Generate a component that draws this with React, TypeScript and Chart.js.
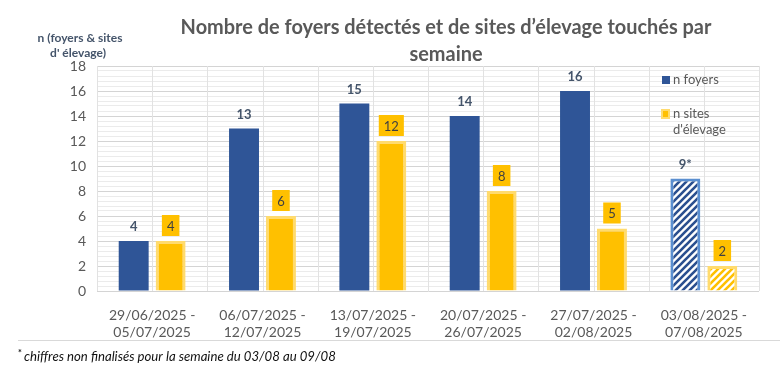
import React, { useEffect, useRef } from "react";
import { Chart, registerables } from "chart.js";

Chart.register(...registerables);

const categories: string[][] = [
  ["29/06/2025 -", "05/07/2025"],
  ["06/07/2025 -", "12/07/2025"],
  ["13/07/2025 -", "19/07/2025"],
  ["20/07/2025 -", "26/07/2025"],
  ["27/07/2025 -", "02/08/2025"],
  ["03/08/2025 -", "07/08/2025"],
];
const foyers = [4, 13, 15, 14, 16, 9];
const sites = [4, 6, 12, 8, 5, 2];
const foyersLabels = ["4", "13", "15", "14", "16", "9*"];
const sitesLabels = ["4", "6", "12", "8", "5", "2"];
const provisional = [false, false, false, false, false, true];
const yMajorTicks = [0, 2, 4, 6, 8, 10, 12, 14, 16, 18];
const yMinorPerMajor = 5;
const titleLines = ["Nombre de foyers détectés et de sites d’élevage touchés par", "semaine"];
const yAxisTitle = ["n (foyers & sites", "d' élevage)"];
const legendFoyers = ["n foyers"];
const legendSites = ["n sites", "d'élevage"];
const footnote = "chiffres non finalisés pour la semaine du 03/08 au 09/08";

const FONT = "Lato, 'Open Sans', sans-serif";
const BLUE = "#2f5597";
const YELLOW = "#ffc000";
const YELLOW_BORDER = "#ffdb6e";
const HATCH_BORDER = "#5b8fd0";
const TEXT_GRAY = "#595959";
const LABEL_BLUE = "#44546a";

function makeHatch(stripe: string, bg: string, size: number, lw: number) {
  const c = document.createElement("canvas");
  c.width = size;
  c.height = size;
  const g = c.getContext("2d")!;
  g.fillStyle = bg;
  g.fillRect(0, 0, size, size);
  g.strokeStyle = stripe;
  g.lineWidth = lw;
  g.beginPath();
  g.moveTo(-1, size + 1);
  g.lineTo(size + 1, -1);
  g.moveTo(-2, 2);
  g.lineTo(2, -2);
  g.moveTo(size - 2, size + 2);
  g.lineTo(size + 2, size - 2);
  g.stroke();
  return g.createPattern(c, "repeat")!;
}

function isMajor(v: number) {
  return yMajorTicks.some((m) => Math.abs(m - v) < 1e-6);
}

function fitFont(ctx: CanvasRenderingContext2D, style: string, text: string, target: number) {
  ctx.font = `${style} 12px ${FONT}`;
  const w = ctx.measureText(text).width;
  ctx.font = `${style} ${((12 * target) / w).toFixed(2)}px ${FONT}`;
}

const decorPlugin = {
  id: "decor",
  beforeDatasetsDraw(chart: any) {
    const { ctx, chartArea: a } = chart;
    ctx.save();
    ctx.strokeStyle = "#e2e2e2";
    ctx.lineWidth = 1;
    const n = categories.length * 2;
    for (let i = 0; i <= n; i++) {
      const x = Math.round(a.left + (i * (a.right - a.left)) / n) + 0.5;
      ctx.beginPath();
      ctx.moveTo(x, a.top);
      ctx.lineTo(x, a.bottom);
      ctx.stroke();
    }
    ctx.restore();
  },
  afterDatasetsDraw(chart: any) {
    const { ctx } = chart;
    ctx.save();
    ctx.textAlign = "center";
    ctx.textBaseline = "middle";
    const m0 = chart.getDatasetMeta(0);
    m0.data.forEach((el: any, i: number) => {
      ctx.font = `bold 13px ${FONT}`;
      ctx.fillStyle = LABEL_BLUE;
      ctx.fillText(foyersLabels[i], el.x, el.y - 14);
    });
    const m1 = chart.getDatasetMeta(1);
    m1.data.forEach((el: any, i: number) => {
      ctx.font = `13px ${FONT}`;
      const w = ctx.measureText(sitesLabels[i]).width + 10;
      const h = 21;
      const bottom = el.y - 5;
      ctx.fillStyle = YELLOW;
      ctx.fillRect(el.x - w / 2, bottom - h, w, h);
      ctx.fillStyle = "#404040";
      ctx.fillText(sitesLabels[i], el.x, bottom - h / 2 + 1);
    });
    ctx.restore();
  },
  afterDraw(chart: any) {
    const { ctx } = chart;
    ctx.save();
    // Title
    ctx.fillStyle = TEXT_GRAY;
    ctx.textAlign = "center";
    ctx.textBaseline = "alphabetic";
    fitFont(ctx, "bold", titleLines[0], 531);
    ctx.fillText(titleLines[0], 446, 34);
    ctx.fillText(titleLines[1], 446, 61);

    // Y axis title
    ctx.fillStyle = LABEL_BLUE;
    ctx.font = `bold 12px ${FONT}`;
    ctx.textBaseline = "middle";
    ctx.fillText(yAxisTitle[0], 80, 38);
    ctx.fillText(yAxisTitle[1], 78, 53);

    // Legend
    ctx.textAlign = "left";
    ctx.fillStyle = BLUE;
    ctx.fillRect(662, 76, 8, 8);
    ctx.fillStyle = YELLOW_BORDER;
    ctx.fillRect(661, 109, 9, 10);
    ctx.fillStyle = YELLOW;
    ctx.fillRect(663, 111, 5, 6);
    ctx.fillStyle = TEXT_GRAY;
    ctx.font = `13px ${FONT}`;
    ctx.fillText(legendFoyers[0], 673, 80);
    ctx.fillText(legendSites[0], 673, 114);
    ctx.fillText(legendSites[1], 673, 130);

    // Separator + footnote
    ctx.strokeStyle = "#d9d9d9";
    ctx.lineWidth = 1;
    ctx.beginPath();
    ctx.moveTo(18, 340.5);
    ctx.lineTo(780, 340.5);
    ctx.stroke();
    ctx.fillStyle = "#111111";
    ctx.font = `bold 9px ${FONT}`;
    ctx.fillText("*", 18, 353);
    fitFont(ctx, "italic", footnote, 312);
    ctx.fillText(footnote, 24, 357);
    ctx.restore();
  },
};

export default function App() {
  const ref = useRef<HTMLCanvasElement | null>(null);
  useEffect(() => {
    const canvas = ref.current!;
    const blueHatch = makeHatch("#2a4f8f", "#ffffff", 7, 2.6);
    const yellowHatch = makeHatch(YELLOW, "#ffffff", 7, 2.6);
    const yTicks: number[] = [];
    for (let i = 0; i < yMajorTicks.length - 1; i++) {
      const a = yMajorTicks[i];
      const b = yMajorTicks[i + 1];
      for (let k = 0; k < yMinorPerMajor; k++) {
        yTicks.push(Math.round((a + ((b - a) * k) / yMinorPerMajor) * 1000) / 1000);
      }
    }
    yTicks.push(yMajorTicks[yMajorTicks.length - 1]);

    const chart = new Chart(canvas, {
      type: "bar",
      data: {
        labels: categories,
        datasets: [
          {
            label: legendFoyers[0],
            data: foyers,
            backgroundColor: provisional.map((p) => (p ? blueHatch : BLUE)) as any,
            borderColor: provisional.map((p) => (p ? HATCH_BORDER : BLUE)),
            borderWidth: provisional.map((p) => (p ? 3 : 0)),
            categoryPercentage: 0.67,
            barPercentage: 0.81,
          },
          {
            label: legendSites.join(" "),
            data: sites,
            backgroundColor: provisional.map((p) => (p ? yellowHatch : YELLOW)) as any,
            borderColor: YELLOW_BORDER,
            borderWidth: 3,
            categoryPercentage: 0.67,
            barPercentage: 0.81,
          },
        ],
      },
      options: {
        responsive: false,
        animation: false,
        layout: { padding: { top: 66, right: 25, left: 0, bottom: 0 } },
        plugins: {
          legend: { display: false },
          title: { display: false },
          tooltip: { enabled: false },
        },
        scales: {
          x: {
            grid: { display: false },
            border: { display: false },
            ticks: {
              color: TEXT_GRAY,
              font: { family: FONT, size: 14 },
              padding: 8,
              maxRotation: 0,
              autoSkip: false,
            },
            afterFit: (s: any) => {
              s.height = 78;
            },
          },
          y: {
            min: 0,
            max: 18,
            afterBuildTicks: (s: any) => {
              s.ticks = yTicks.map((v) => ({ value: v }));
            },
            grid: {
              drawTicks: false,
              color: (c: any) => (isMajor(c.tick.value) ? "#d4d4d4" : "#ebebeb"),
            },
            border: { display: true, color: "#d4d4d4" },
            ticks: {
              autoSkip: false,
              color: TEXT_GRAY,
              font: { family: FONT, size: 14 },
              padding: 11,
              callback: (v: any) => (isMajor(Number(v)) ? String(v) : ""),
            },
            afterFit: (s: any) => {
              s.width = 97;
            },
          },
        },
      },
      plugins: [decorPlugin],
    });
    return () => chart.destroy();
  }, []);
  return (
    <div style={{ position: "absolute", left: 0, top: 0, width: 784, height: 369, background: "#fff" }}>
      <canvas ref={ref} width={784} height={369} style={{ display: "block" }} />
    </div>
  );
}
